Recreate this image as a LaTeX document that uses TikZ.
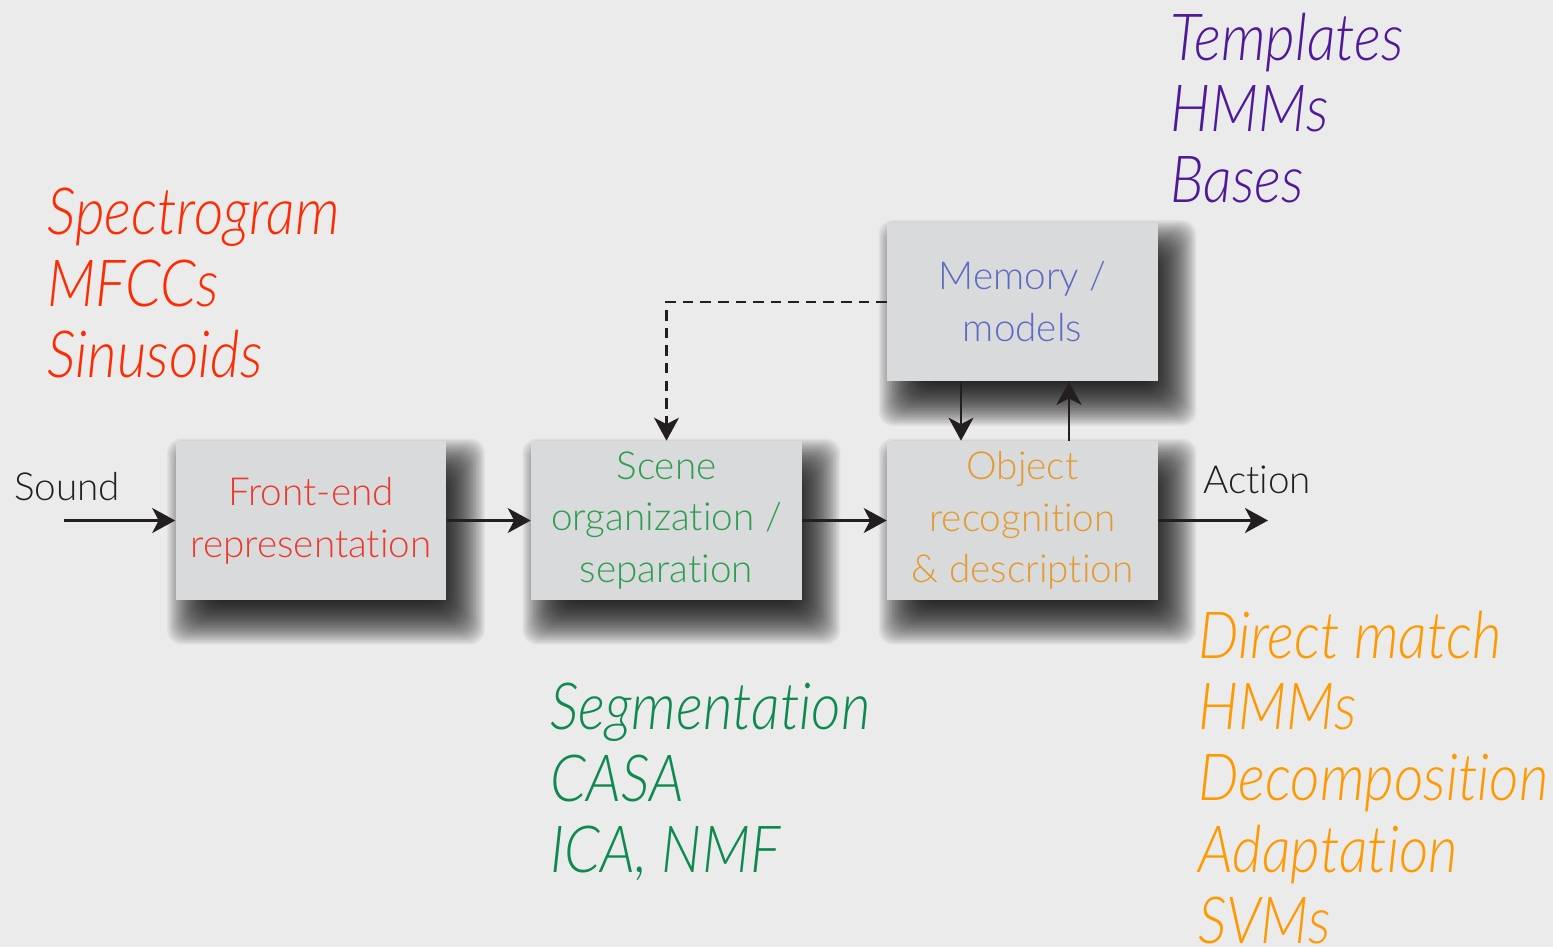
\documentclass[tikz,border=0pt]{standalone}
\usepackage{fontspec}
\setmainfont{Lato Light}[Ligatures={NoCommon}]
\newfontfamily\listfont{Lato Light}[FakeStretch=0.88, Ligatures={NoCommon}]
\usetikzlibrary{arrows.meta,calc}

\pgfdeclarelayer{backdrop}
\pgfdeclarelayer{shadowlayer}
\pgfsetlayers{backdrop,shadowlayer,main}

\definecolor{bgcol}{HTML}{EBEBEB}
\definecolor{boxcol}{HTML}{D9DADC}
\definecolor{inkcol}{HTML}{231F20}
\definecolor{redtxt}{HTML}{EA3A2E}
\definecolor{redlist}{HTML}{FF2A00}
\definecolor{greentxt}{HTML}{2E9E4E}
\definecolor{greenlist}{HTML}{0E8A4F}
\definecolor{orangetxt}{HTML}{E39A2F}
\definecolor{orangelist}{HTML}{FF9900}
\definecolor{bluetxt}{HTML}{5C6BC0}
\definecolor{purplelist}{HTML}{4F1A99}

\tikzset{
  block/.style={fill=boxcol, minimum width=5.42cm, minimum height=3.18cm,
    align=center, inner sep=0pt, font=\fontsize{22}{29.5}\selectfont},
  shadowring/.style={fill=black, opacity=0.05, rounded corners=8pt},
  flow/.style={-{Stealth[length=0.46cm,width=0.5cm,inset=0.13cm]},
    line width=1.3pt, inkcol},
  list/.style={anchor=north west, inner sep=0pt, align=left,
    font=\listfont\fontsize{37}{40.5}\selectfont\itshape},
  word/.style={inkcol, font=\fontsize{22}{26}\selectfont}
}

\begin{document}
\begin{tikzpicture}[x=0.02cm, y=-0.02cm]
  \useasboundingbox (0,0) rectangle (1553,947);
  \begin{pgfonlayer}{backdrop}
    \fill[bgcol] (0,0) rectangle (1553,947);
  \end{pgfonlayer}
  \clip (0,0) rectangle (1553,947);

  % boxes
  \node[block, text=redtxt] (front) at (311,520.5) {Front-end\\representation};
  \node[block, text=greentxt] (scene) at (666.5,520.5) {Scene\\organization /\\separation};
  \node[block, text=orangetxt] (obj) at (1022.5,520.5) {Object\\recognition\\\& description};
  \node[block, text=bluetxt] (mem) at (1022.5,302) {Memory /\\models};

  % soft shadows
  \begin{pgfonlayer}{shadowlayer}
    \foreach \b in {front,scene,obj,mem}
      \foreach \d in {-22,-20.5,...,24}
        \fill[shadowring] ($(\b.south west)+(15-\d,21+\d)$) rectangle ($(\b.north east)+(15+\d,21-\d)$);
  \end{pgfonlayer}

  \node[word] (sound) at (67,487) {Sound};
  \node[word] (action) at (1257,480) {Action};
  \coordinate (in) at (64,520.5);
  \coordinate (out) at (1268,520.5);

  % connectors
  \draw[flow] (in) -- (front);
  \draw[flow] (front) -- (scene);
  \draw[flow] (scene) -- (obj);
  \draw[flow] (obj) -- (out);
  \draw[flow] ([xshift=-1.23cm]mem.south) -- ([xshift=-1.23cm]obj.north);
  \draw[flow] ([xshift=0.93cm]obj.north) -- ([xshift=0.93cm]mem.south);
  \draw[flow, line width=1.2pt, dash pattern=on 6pt off 4pt] (mem.west) -| (scene.north);

  % lists
  \node[list, text=redlist] (feat) at (47,188) {Spectrogram\\MFCCs\\Sinusoids};
  \node[list, text=purplelist] (models) at (1170,13) {Templates\\HMMs\\Bases};
  \node[list, text=greenlist] (sep) at (550,683) {Segmentation\\CASA\\ICA, NMF};
  \node[list, text=orangelist] (recog) at (1198,611) {Direct match\\HMMs\\Decomposition\\Adaptation\\SVMs};
\end{tikzpicture}
\end{document}
